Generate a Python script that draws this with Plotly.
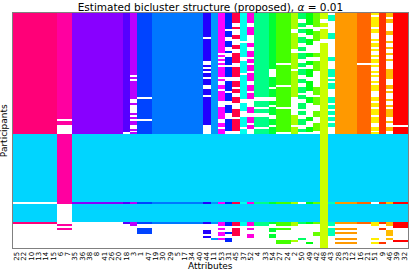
import re
import plotly.graph_objects as go

ATTRIBUTES = ["25", "22", "10", "13", "14", "15", "6", "7", "35", "36", "38", "8", "41", "26",
              "20", "18", "3", "1", "47", "19", "30", "29", "5", "17", "34", "40", "44", "11",
              "53", "31", "45", "37", "52", "4", "33", "54", "27", "24", "2", "50", "49", "42",
              "48", "43", "28", "23", "12", "16", "21", "51", "9", "46", "39", "32"]

# bicluster id of each attribute column (0 = none)
COLUMN_CLUSTER = [1, 1, 1, 1, 1, 1, 2, 2, 3, 3, 3, 3, 3, 3, 3, 4, 5, 6, 6, 7, 7, 7, 7, 7, 7, 7,
                  8, 9, 10, 11, 12, 13, 14, 15, 15, 16, 17, 17, 18, 19, 20, 21, 22, 23,
                  24, 24, 24, 25, 25, 26, 27, 28, 29, 29]
ROW_CLUSTER = 30  # the participant-dominant bicluster (cyan)

CLUSTER_COLORS = ["#ffffff", "#ff0078", "#ff00a0", "#8800ff", "#5500ff", "#bb00ff", "#0044ff",
                  "#0077ff", "#2200ff", "#0099ff", "#ff00ff", "#0022ff", "#ff0044", "#00ffee",
                  "#ff00dd", "#00ff88", "#00ff33", "#44ff00", "#aaff00", "#00ff66", "#00ff11",
                  "#66ff00", "#ccff00", "#00ffbb", "#ff9900", "#ff6600", "#ffee00", "#ff3300",
                  "#ffbb00", "#ff0000", "#00d5ff"]

# membership of each participant row per column, run-length coded:
# x = column's own bicluster, c = participant bicluster, . = none
COLUMN_PATTERNS = [
    "x61 c34 .1 c9 x1 .12",
    "x61 c34 .1 c9 x1 .12",
    "x61 c34 .1 c9 x1 .12",
    "x61 c34 .1 c9 x1 .12",
    "x61 c34 .1 c9 x1 .12",
    "x61 c34 .1 c9 x1 .12",
    "x53 .1 x2 .5 x35 .9 .1 x1 .1 x1 .9",
    "x53 .1 x2 .5 x35 .9 .1 x1 .1 x1 .9",
    "x61 c34 x1 c9 .13",
    "x61 c34 x1 c9 .13",
    "x61 c34 x1 c9 .13",
    "x61 c34 x1 c9 .13",
    "x61 c34 x1 c9 .13",
    "x61 c34 x1 c9 .13",
    "x61 c34 x1 c9 .13",
    "x60 .1 c34 x1 c9 x1 .12",
    "x31 .1 x1 .1 x9 .2 x1 .4 x1 .1 x1 .1 x2 .2 x1 .1 x1 c34 x1 c9 x2 .11",
    "x42 .1 x10 .1 x7 c34 x1 c9 x1 .2 x3 .7",
    "x42 .1 x10 .1 x7 c34 x1 c9 x1 .2 x3 .7",
    "x61 c34 x1 c9 x1 .12",
    "x61 c34 x1 c9 x1 .12",
    "x61 c34 x1 c9 x1 .12",
    "x61 c34 x1 c9 x1 .12",
    "x61 c34 x1 c9 x1 .12",
    "x61 c34 x1 c9 x1 .12",
    "x61 c34 x1 c9 x1 .12",
    "x12 .1 x11 .2 x1 .1 x1 .1 x2 .1 x3 .2 x3 .1 x14 .5 c34 x1 c9 x1 .3 x2 .1 x1 .5",
    "x61 c34 x1 c9 x1 .7 x1 .4",
    "x20 .1 x1 .1 x1 .1 x1 .1 x5 .1 x1 .2 x2 .1 x5 .3 x6 .2 x2 .1 x3 c34 x1 c9 x2 .1 x1 .1 x2 .1 x1 .4",
    "x8 .1 x3 .2 x3 .2 x1 .2 x4 .1 x5 .2 x5 .1 x4 .2 x4 .3 x6 .2 c34 x1 c9 x2 .3 x1 .2 x2 .3",
    "x5 .2 x1 .3 x2 .3 x2 .2 x5 .2 x5 .2 x3 .1 x2 .2 x3 .3 x4 .1 x6 .2 c34 x1 c9 x2 .1 x4 .6",
    "x14 .1 x7 .2 x6 .1 x12 .2 x4 .3 x5 .1 x3 c34 x1 c9 x2 .11",
    "x5 .2 x4 .4 x2 .2 x3 .1 x2 .1 x3 .1 x4 .2 x3 .1 x3 .4 x3 .2 x3 .1 x2 .3 c34 x1 c9 x2 .1 x1 .2 x2 .5",
    "x42 .2 x3 .1 x2 .2 x5 .1 x3 c34 x1 c9 x2 .11",
    "x42 .2 x3 .1 x2 .2 x5 .1 x3 c34 x1 c9 x2 .11",
    "x28 .4 x5 .1 x4 .2 x2 .1 x4 .2 x3 .1 x4 c34 x1 c9 x1 .2 x2 .1 x2 .5",
    "x25 .1 x10 .1 x10 .1 x12 .1 c34 x1 c9 x2 .1 x1 .5 x2 .2",
    "x25 .1 x10 .1 x10 .1 x12 .1 c34 x1 c9 x2 .1 x1 .5 x2 .2",
    "x8 .2 x8 .2 x8 .1 x13 .9 x5 .1 x4 c34 x1 c9 x2 .7 x1 .3",
    "x3 .2 x2 .1 x2 .2 x3 .2 x2 .1 x3 .2 x2 .1 x3 .2 x2 .2 x3 .1 x2 .2 x3 .1 x2 .2 x3 .2 x2 .1 c34 .1 c9 x1 .7 x1 .4",
    "x6 .2 x3 .2 x3 .4 x2 .2 x2 .2 x4 .2 x5 .3 x3 .7 x2 .3 x3 .1 c34 x1 c9 x1 .9 x1 .2",
    "x7 .2 x5 .6 x2 .2 x5 .8 x4 .1 x4 .3 x3 .3 x4 .2 c34 x1 c9 x1 .4 x2 .6",
    "x3 .2 x2 .1 x5 .2 x46 x57",
    ".1 x3 .6 x3 .9 x2 .4 x4 .1 x1 .1 x2 x1 .4 x3 .1 x2 .1 x2 .1 x2 .1 x2 .4 c34 x1 c9 x2 .1 x4 .6",
    "x61 c34 x1 c9 x1 .2 x1 .1 x1 .2 x1 .1 x1 .2",
    "x61 c34 x1 c9 x1 .2 x1 .1 x1 .2 x1 .1 x1 .2",
    "x61 c34 x1 c9 x1 .2 x1 .1 x1 .2 x1 .1 x1 .2",
    "x25 .1 x35 c34 x1 c9 x1 .12",
    "x25 .1 x35 c34 x1 c9 x1 .12",
    "x1 .1 x5 .1 x2 .3 x1 .1 x2 .1 x1 .2 x1 .1 x2 .1 x1 .2 x1 .1 x1 .2 x1 .1 x3 .3 x2 .1 x2 .1 x3 .1 x3 .2 x2 .1 x1 c34 .1 c9 x2 .6 x1 .1 x1 .2",
    "x61 c34 x1 c9 x1 .2 x1 .6 x1 .2",
    "x2 .1 x2 .4 x2 .3 x1 .2 x1 .2 x1 .2 x1 .4 x5 .3 x2 .1 x1 .3 x1 .2 x1 .1 x4 .2 x1 .2 x2 .2 c34 x1 c9 x2 .2 x3 .1 x1 .4",
    "x56 .1 x4 c34 x1 c9 x3 .6 x1 .3",
    "x56 .1 x4 c34 x1 c9 x3 .6 x1 .3",
]

N_ROWS = 118


def decode(pattern, own):
    vals = []
    for code, cnt in re.findall(r"([xc.])(\d+)", pattern):
        v = own if code == "x" else (ROW_CLUSTER if code == "c" else 0)
        vals.extend([v] * int(cnt))
    vals = (vals + [0] * N_ROWS)[:N_ROWS]
    return vals


cols = [decode(p, c) for p, c in zip(COLUMN_PATTERNS, COLUMN_CLUSTER)]
z = [[cols[j][i] for j in range(len(cols))] for i in range(N_ROWS)]
xpos = list(range(len(ATTRIBUTES)))

K = len(CLUSTER_COLORS)
colorscale = []
for k, col in enumerate(CLUSTER_COLORS):
    colorscale.append([k / K, col])
    colorscale.append([(k + 1) / K, col])

fig = go.Figure(go.Heatmap(
    z=z, x=xpos, y=list(range(N_ROWS)),
    colorscale=colorscale, zmin=-0.5, zmax=K - 0.5,
    showscale=False, hoverinfo="skip", zsmooth=False,
))

fig.update_layout(
    width=411, height=272,
    margin=dict(l=13, r=3, t=13, b=24, autoexpand=False),
    paper_bgcolor="white", plot_bgcolor="white",
    font=dict(family="DejaVu Sans", color="black"),
    title=dict(text="Estimated bicluster structure (proposed), <i>α</i> = 0.01",
               x=0.512, xanchor="center", yref="container", y=1 - 7 / 272, yanchor="middle",
               automargin=False,
               font=dict(size=10.5, family="DejaVu Sans")),
    xaxis=dict(tickmode="array", tickvals=xpos, ticktext=ATTRIBUTES,
               tickangle=-90, tickfont=dict(size=7), automargin=False,
               showline=True, linecolor="#808080", linewidth=1, mirror=True,
               ticks="", ticklen=0, showgrid=False, zeroline=False,
               range=[-0.5, len(ATTRIBUTES) - 0.5]),
    yaxis=dict(showticklabels=False, ticks="", showgrid=False, zeroline=False,
               automargin=False,
               showline=True, linecolor="#808080", linewidth=1, mirror=True,
               range=[N_ROWS - 0.5, -0.5]),
    annotations=[
        dict(text="Attributes", xref="paper", yref="paper", x=0.5, y=-0.045,
             xanchor="center", yanchor="top", showarrow=False, font=dict(size=9)),
        dict(text="Participants", xref="paper", yref="paper", x=-0.006, y=0.5,
             xanchor="right", yanchor="middle", textangle=-90, showarrow=False,
             font=dict(size=9)),
    ],
)

fig.write_html(
    "out.html",
    config={"displayModeBar": False, "staticPlot": True},
    post_script="document.body.style.margin='0';document.body.style.overflow='hidden';",
)
